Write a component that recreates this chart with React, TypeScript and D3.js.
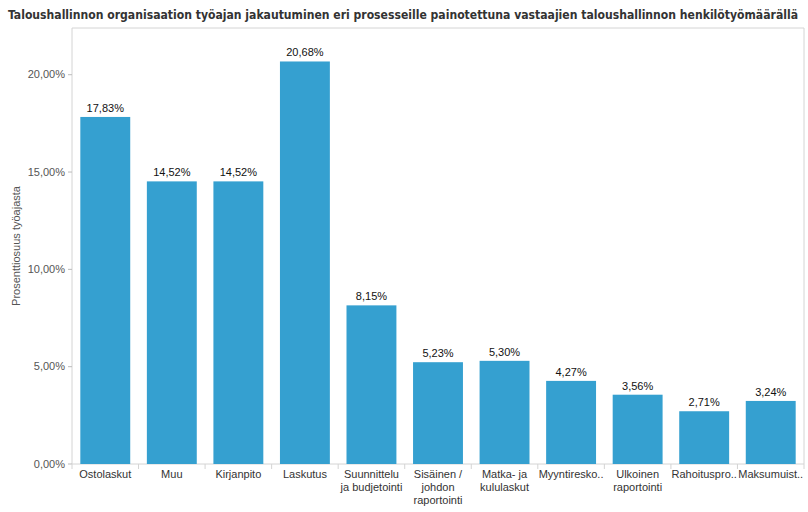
import React from "react";
import * as d3 from "d3";

const categories: string[][] = [
  ["Ostolaskut"],
  ["Muu"],
  ["Kirjanpito"],
  ["Laskutus"],
  ["Suunnittelu", "ja budjetointi"],
  ["Sisäinen /", "johdon", "raportointi"],
  ["Matka- ja", "kululaskut"],
  ["Myyntiresko.."],
  ["Ulkoinen", "raportointi"],
  ["Rahoituspro.."],
  ["Maksumuist.."],
];
const values = [17.83, 14.52, 14.52, 20.68, 8.15, 5.23, 5.3, 4.27, 3.56, 2.71, 3.24];
const yTicks = [0, 5, 10, 15, 20];

const W = 808;
const H = 512;
const margin = { top: 28, right: 4, bottom: 48, left: 72 };

const fmt = (v: number) => v.toFixed(2).replace(".", ",") + "%";

export default function App() {
  const x = d3
    .scaleBand<number>()
    .domain(d3.range(values.length))
    .range([margin.left, W - margin.right])
    .paddingInner(0.25)
    .paddingOuter(0.125);
  const y = d3.scaleLinear().domain([0, 22.4]).range([H - margin.bottom, margin.top]);
  const step = x.step();
  const x0 = margin.left;
  const x1 = W - margin.right;
  const yb = y(0);

  return (
    <svg
      width={W}
      height={H}
      style={{ position: "absolute", left: 0, top: 0, background: "#fff" }}
      fontFamily="'Liberation Sans', Arial, sans-serif"
    >
      <text
        x={8}
        y={19}
        fontFamily="'DejaVu Sans Condensed', 'DejaVu Sans', sans-serif"
        fontWeight="bold"
        fontSize={12.2}
        fill="#333"
        textLength={790}
        lengthAdjust="spacingAndGlyphs"
      >
        Taloushallinnon organisaation työajan jakautuminen eri prosesseille painotettuna vastaajien taloushallinnon henkilötyömäärällä
      </text>

      {/* frame */}
      <line x1={x0} x2={x1} y1={margin.top} y2={margin.top} stroke="#d4d4d4" />
      <line x1={x1} x2={x1} y1={margin.top} y2={yb} stroke="#d4d4d4" />
      <line x1={x0} x2={x0} y1={margin.top} y2={yb} stroke="#d4d4d4" />
      <line x1={x0} x2={x1} y1={yb} y2={yb} stroke="#d4d4d4" />

      {/* y axis */}
      {yTicks.map((t) => (
        <g key={t}>
          <line x1={x0 - 4} x2={x0} y1={y(t)} y2={y(t)} stroke="#bbb" />
          <text x={x0 - 7} y={y(t)} dy="0.32em" textAnchor="end" fontSize={11} fill="#555">
            {fmt(t)}
          </text>
        </g>
      ))}
      <text
        transform={`translate(20,${(margin.top + yb) / 2}) rotate(-90)`}
        textAnchor="middle"
        fontSize={11}
        fill="#555"
      >
        Prosenttiosuus työajasta
      </text>

      {/* bars */}
      {values.map((v, i) => (
        <g key={i}>
          <rect x={x(i)} y={y(v)} width={x.bandwidth()} height={yb - y(v)} fill="#35a0d0" />
          <text
            x={(x(i) ?? 0) + x.bandwidth() / 2}
            y={y(v) - 5}
            textAnchor="middle"
            fontSize={11}
            fill="#111"
          >
            {fmt(v)}
          </text>
        </g>
      ))}

      {/* x axis separators and labels */}
      {d3.range(values.length + 1).map((i) => (
        <line
          key={"s" + i}
          x1={x0 + i * step}
          x2={x0 + i * step}
          y1={yb}
          y2={yb + 5}
          stroke="#d4d4d4"
        />
      ))}
      {categories.map((lines, i) => (
        <text
          key={"c" + i}
          x={(x(i) ?? 0) + x.bandwidth() / 2}
          y={yb + 14}
          textAnchor="middle"
          fontSize={11}
          fill="#333"
        >
          {lines.map((l, j) => (
            <tspan key={j} x={(x(i) ?? 0) + x.bandwidth() / 2} dy={j === 0 ? 0 : 13}>
              {l}
            </tspan>
          ))}
        </text>
      ))}
    </svg>
  );
}
